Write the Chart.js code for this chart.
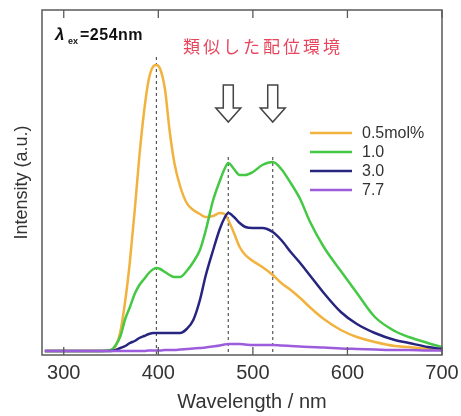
<!DOCTYPE html>
<html>
<head>
<meta charset="utf-8">
<script src="https://cdn.jsdelivr.net/npm/chart.js@4.4.1/dist/chart.umd.min.js"></script>
<style>
html,body{margin:0;padding:0;background:#fff;}
#wrap{width:461px;height:416px;position:relative;}
</style>
</head>
<body>
<div id="wrap"><canvas id="c" width="461" height="416"></canvas></div>
<script>
// ---- data ----
const wavelengths = [280,300,320,340,350,355,360,365,370,375,
                     380,385,390,395,398,402,407,412,417,423,
                     430,437,444,450,458,465,470,474,480,486,
                     492,500,510,521,530,540,550,560,575,593,
                     610,629,650,665,685,700];
const conc05 = [0,0,0,0,1,5,20,50,90,140,
                195,240,272,285,286,282,262,220,188,165,
                148,141,137,134,135,138,137,131,118,104,
                96,90,84,76,68,61,53,44,32,21,
                14,9,5,4,2,1];
const conc10 = [0,0,0,0,1,6,15,32,44,57,
                66,72,78,82,83,82,79,76,74,74,
                80,89,101,120,151,170,182,188,182,176,
                176,179,186,189,182,168,152,130,104,80,
                58,34,20,14,8,4];
const conc30 = [0,0,0,0,0,1,3,5,8,10,
                13,15,17,18,18,18,18,18,18,18,
                22,31,51,75,101,122,133,138,134,128,
                124,123,123,119,111,99,88,76,58,39,
                27,18,11,8,4,2];
const conc77 = [0,0,0,0,0,0,0,0,0,0,
                0,0,0.5,0.5,0.5,0.5,1,1,1,1.5,
                2,2.5,3,3.5,4.5,5.5,6.5,7,7,7,
                6.5,6,6,6,5.5,5,4.5,4,3.5,2.5,
                2,1.5,1,1,0.5,0.5];
const seriesLabels = ['0.5mol%','1.0','3.0','7.7'];
const seriesColors = ['#f2b23e','#45c845','#27257f','#9d5cdc'];
const xTicks = [300,400,500,600,700];
const peakLines = [{x:398, top:294},{x:474, top:194},{x:521, top:194}];
const arrowAt = [474, 521];

const seriesValues = [conc05, conc10, conc30, conc77];
const datasets = seriesValues.map((vals, i) => ({
  label: seriesLabels[i],
  data: wavelengths.map((w, j) => ({x: w, y: vals[j]})),
  borderColor: seriesColors[i],
  backgroundColor: seriesColors[i],
  borderWidth: 2.5,
  pointRadius: 0,
  fill: false,
  cubicInterpolationMode: 'monotone',
  order: 4 - i
}));

const SANS = '"Liberation Sans", Arial, sans-serif';

const deco = {
  id: 'deco',
  beforeDatasetsDraw(chart) {
    const ctx = chart.ctx, xs = chart.scales.x, ys = chart.scales.y, a = chart.chartArea;
    ctx.save();
    ctx.strokeStyle = '#555';
    ctx.lineWidth = 1.2;
    ctx.setLineDash([3, 3]);
    peakLines.forEach(p => {
      const x = xs.getPixelForValue(p.x);
      ctx.beginPath();
      ctx.moveTo(x, ys.getPixelForValue(p.top));
      ctx.lineTo(x, a.bottom);
      ctx.stroke();
    });
    ctx.restore();
  },
  afterDraw(chart) {
    const ctx = chart.ctx, xs = chart.scales.x, ys = chart.scales.y, a = chart.chartArea;
    ctx.save();
    // frame
    ctx.strokeStyle = '#5a5a5a';
    ctx.lineWidth = 1.5;
    ctx.strokeRect(a.left, a.top, a.right - a.left, a.bottom - a.top);
    // inward ticks
    ctx.lineWidth = 1.3;
    xTicks.forEach(t => {
      const x = xs.getPixelForValue(t);
      ctx.beginPath();
      ctx.moveTo(x, a.bottom); ctx.lineTo(x, a.bottom - 8);
      ctx.moveTo(x, a.top); ctx.lineTo(x, a.top + 8);
      ctx.stroke();
    });
    // arrows
    ctx.strokeStyle = '#444';
    ctx.fillStyle = '#fff';
    ctx.lineWidth = 1.5;
    arrowAt.forEach(w => {
      const cx = xs.getPixelForValue(w);
      const top = 85, shaftB = 108, tip = 122;
      ctx.beginPath();
      ctx.moveTo(cx - 5, top);
      ctx.lineTo(cx + 5, top);
      ctx.lineTo(cx + 5, shaftB);
      ctx.lineTo(cx + 12.5, shaftB);
      ctx.lineTo(cx, tip);
      ctx.lineTo(cx - 12.5, shaftB);
      ctx.lineTo(cx - 5, shaftB);
      ctx.closePath();
      ctx.fill();
      ctx.stroke();
    });
    // excitation label
    ctx.fillStyle = '#111';
    ctx.textBaseline = 'alphabetic';
    ctx.textAlign = 'left';
    ctx.font = 'bold italic 17px ' + SANS;
    ctx.fillText('λ', 55, 40);
    ctx.font = 'bold 9px ' + SANS;
    ctx.fillText('ex', 68, 44);
    ctx.font = 'bold 16px ' + SANS;
    try { ctx.letterSpacing = '0.5px'; } catch (e) {}
    ctx.fillText('=254nm', 80, 40);
    // Japanese note
    ctx.fillStyle = '#e8455c';
    ctx.font = '17px "Noto Sans CJK JP", sans-serif';
    ctx.textBaseline = 'middle';
    try { ctx.letterSpacing = '3px'; } catch (e) {}
    ctx.fillText('類似した配位環境', 183, 47);
    try { ctx.letterSpacing = '0px'; } catch (e) {}
    // legend
    ctx.font = '16px ' + SANS;
    ctx.lineWidth = 2.5;
    chart.data.datasets.forEach((ds, i) => {
      const y = 133 + 19 * i;
      ctx.strokeStyle = ds.borderColor;
      ctx.beginPath();
      ctx.moveTo(310, y); ctx.lineTo(352, y);
      ctx.stroke();
      ctx.fillStyle = '#333';
      ctx.fillText(ds.label, 362, y + 1);
    });
    // x title
    ctx.font = '20px ' + SANS;
    ctx.fillStyle = '#333';
    ctx.textAlign = 'center';
    ctx.textBaseline = 'alphabetic';
    ctx.fillText('Wavelength / nm', 252, 408);
    ctx.restore();
  }
};

new Chart(document.getElementById('c'), {
  type: 'line',
  data: { datasets },
  options: {
    responsive: false,
    animation: false,
    events: [],
    layout: { padding: { left: 0, right: 19, top: 10, bottom: 0 } },
    plugins: { legend: { display: false }, tooltip: { enabled: false } },
    scales: {
      x: {
        type: 'linear',
        min: 277, max: 700,
        grid: { display: false },
        border: { display: false },
        ticks: {
          includeBounds: false,
          stepSize: 100,
          padding: -2,
          color: '#333',
          font: { family: SANS, size: 20 },
          callback: v => String(v)
        },
        afterFit: s => { s.height = 61; s.paddingLeft = 0; s.paddingRight = 0; }
      },
      y: {
        min: -4, max: 341,
        grid: { display: false },
        border: { display: false },
        ticks: { display: false },
        title: {
          display: true,
          text: 'Intensity (a.u.)',
          color: '#333',
          font: { family: SANS, size: 18 },
          padding: { top: 11, bottom: 0 }
        },
        afterFit: s => { s.width = 42; }
      }
    }
  },
  plugins: [deco]
});
</script>
</body>
</html>
